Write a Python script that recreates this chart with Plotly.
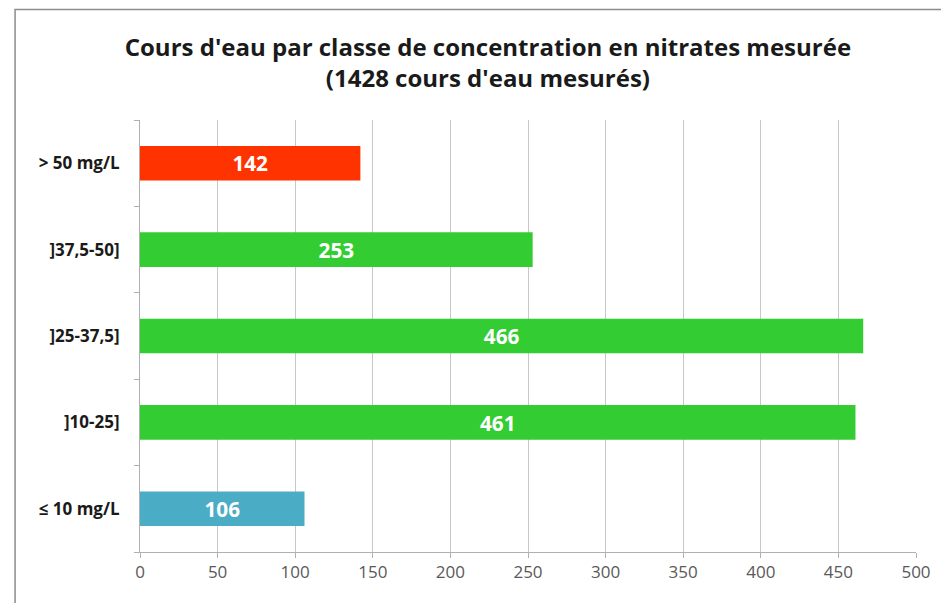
import plotly.graph_objects as go

# Classes de concentration (du bas vers le haut)
classes = ["≤ 10 mg/L", "]10-25]", "]25-37,5]", "]37,5-50]", "> 50 mg/L"]
nb_cours_eau = [106, 461, 466, 253, 142]
couleurs = ["#4BACC6", "#33CC33", "#33CC33", "#33CC33", "#FF3300"]

fig = go.Figure(go.Bar(
    y=classes,
    x=nb_cours_eau,
    orientation="h",
    width=0.4,
    marker=dict(color=couleurs, line=dict(width=0)),
    text=nb_cours_eau,
    textposition="inside",
    insidetextanchor="middle",
    textfont=dict(color="white", size=24, family="Open Sans", weight="bold"),
    hoverinfo="x+y",
))

# la page html ajoute une marge de 8 px autour de la figure
fig.update_layout(
    width=941,
    height=595,
    margin=dict(l=132, r=33, t=112, b=51),
    paper_bgcolor="white",
    plot_bgcolor="white",
    font=dict(family="Open Sans", color="#404040"),
    title=dict(
        text="Cours d'eau par classe de concentration en nitrates mesurée<br>(1428 cours d'eau mesurés)",
        x=0.51,
        xanchor="center",
        y=0.92,
        yanchor="top",
        font=dict(size=24, color="#1a1a1a", family="Open Sans", weight="bold"),
    ),
    xaxis=dict(
        range=[0, 500],
        dtick=50,
        showgrid=True,
        gridcolor="#c8c8c8",
        gridwidth=1,
        showline=True,
        linecolor="#b0b0b0",
        ticks="outside",
        ticklen=5,
        tickcolor="#b0b0b0",
        tickfont=dict(size=17, color="#595959"),
        zeroline=False,
        fixedrange=True,
    ),
    yaxis=dict(
        categoryorder="array",
        categoryarray=classes,
        showline=True,
        linecolor="#b0b0b0",
        ticks="outside",
        tickson="boundaries",
        ticklen=5,
        tickcolor="#b0b0b0",
        ticklabelstandoff=16,
        tickfont=dict(size=17, color="#1a1a1a", weight="bold"),
        fixedrange=True,
    ),
    shapes=[
        # cadre du graphique (visible à gauche et en haut)
        dict(type="rect", xref="paper", yref="paper",
             x0=-0.161, x1=1.2, y0=-0.3, y1=1.256,
             line=dict(color="#8c8c8c", width=1.5), fillcolor="rgba(0,0,0,0)", layer="below"),
    ],
    showlegend=False,
)

fig.write_html("out.html")
